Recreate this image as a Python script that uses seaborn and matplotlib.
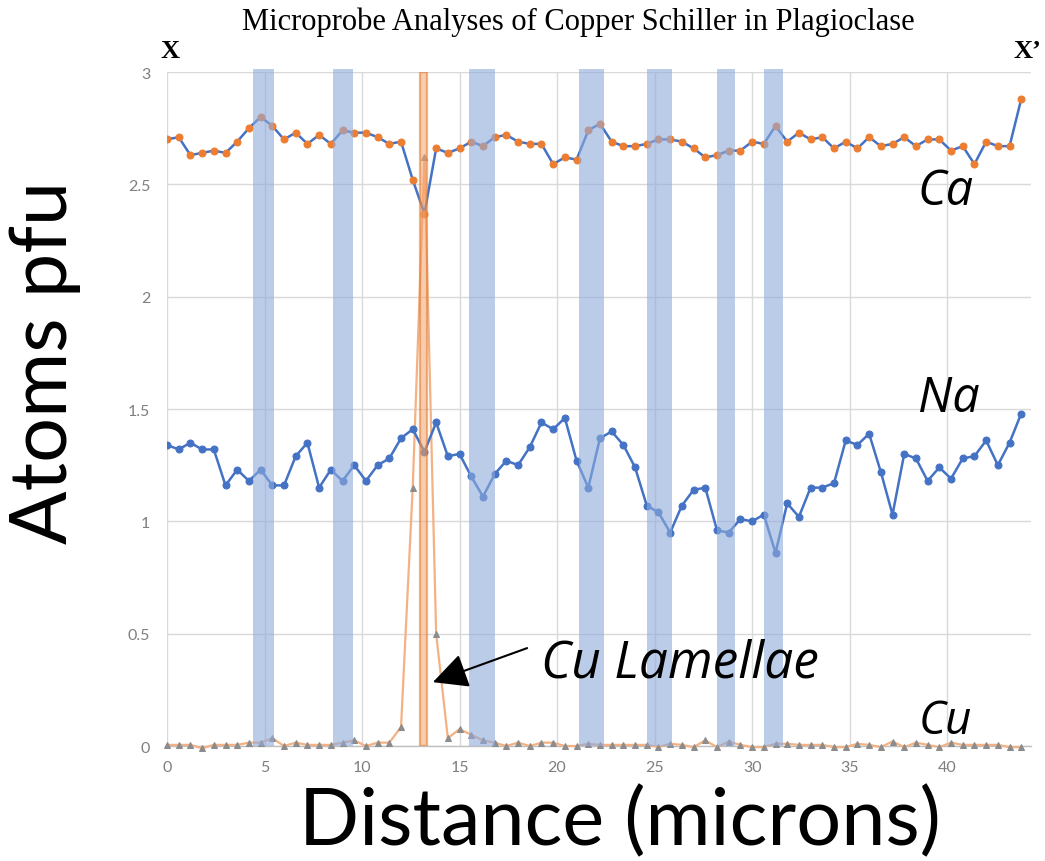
import numpy as np
import pandas as pd
import matplotlib
matplotlib.use("Agg")
import matplotlib.pyplot as plt
import seaborn as sns

# Microprobe traverse X -> X' : sample spacing 0.6 microns, 74 analyses
step_um = 0.6
distance = np.round(np.arange(74) * step_um, 1)

ca = [2.70, 2.71, 2.63, 2.64, 2.65, 2.64, 2.69, 2.75, 2.80, 2.76,
      2.70, 2.73, 2.68, 2.72, 2.68, 2.74, 2.73, 2.73, 2.71, 2.68,
      2.69, 2.52, 2.37, 2.66, 2.64, 2.66, 2.69, 2.67, 2.71, 2.72,
      2.69, 2.68, 2.68, 2.59, 2.62, 2.61, 2.74, 2.77, 2.69, 2.67,
      2.67, 2.68, 2.70, 2.70, 2.69, 2.66, 2.62, 2.63, 2.65, 2.65,
      2.69, 2.68, 2.76, 2.69, 2.73, 2.70, 2.71, 2.66, 2.69, 2.66,
      2.71, 2.67, 2.68, 2.71, 2.67, 2.70, 2.70, 2.65, 2.67, 2.59,
      2.69, 2.67, 2.67, 2.88]

na = [1.34, 1.32, 1.35, 1.32, 1.32, 1.16, 1.23, 1.18, 1.23, 1.16,
      1.16, 1.29, 1.35, 1.15, 1.23, 1.18, 1.25, 1.18, 1.25, 1.28,
      1.37, 1.41, 1.31, 1.44, 1.29, 1.30, 1.20, 1.11, 1.21, 1.27,
      1.25, 1.33, 1.44, 1.41, 1.46, 1.27, 1.15, 1.37, 1.40, 1.34,
      1.24, 1.07, 1.04, 0.95, 1.07, 1.14, 1.15, 0.96, 0.95, 1.01,
      1.00, 1.03, 0.86, 1.08, 1.02, 1.15, 1.15, 1.17, 1.36, 1.34,
      1.39, 1.22, 1.03, 1.30, 1.28, 1.18, 1.24, 1.19, 1.28, 1.29,
      1.36, 1.25, 1.35, 1.48]

cu = [0.005, 0.005, 0.005, -0.010, 0.005, 0.005, 0.005, 0.015, 0.015, 0.035,
      0.000, 0.015, 0.005, 0.005, 0.005, 0.015, 0.025, 0.000, 0.015, 0.015,
      0.085, 1.150, 2.620, 0.500, 0.035, 0.075, 0.050, 0.025, 0.015, 0.000,
      0.015, 0.000, 0.015, 0.015, 0.000, 0.000, 0.010, 0.005, 0.005, 0.005,
      0.005, 0.005, -0.005, 0.010, 0.005, -0.005, 0.025, -0.005, 0.020, 0.005,
      -0.005, -0.005, 0.010, 0.010, 0.005, 0.005, 0.005, -0.005, -0.005, 0.010,
      0.005, -0.005, 0.020, -0.005, 0.015, 0.005, -0.005, 0.015, 0.005, 0.005,
      0.005, 0.005, -0.005, -0.005]

# Highlighted zones along the traverse (microns)
band_starts = [4.4, 8.5, 15.5, 21.1, 24.6, 28.2, 30.6]
band_ends = [5.5, 9.55, 16.8, 22.4, 25.9, 29.1, 31.6]
lamella_start, lamella_end = 12.95, 13.35

x_ticks = [0, 5, 10, 15, 20, 25, 30, 35, 40]
y_ticks = [0, 0.5, 1, 1.5, 2, 2.5, 3]
y_tick_labels = ["0", "0.5", "1", "1.5", "2", "2.5", "3"]

df = pd.DataFrame({"distance": distance, "Ca": ca, "Na": na, "Cu": cu})

sns.set_theme(style="white")
plt.rcParams["font.family"] = ["Lato", "DejaVu Sans"]
plt.rcParams["text.color"] = "black"

fig = plt.figure(figsize=(10.45, 8.62), dpi=100)
ax = fig.add_axes([0.1598, 0.1334, 0.8268, 0.7819])

blue = "#4472c4"
orange = "#ed7d31"
label_font = ["Open Sans", "DejaVu Sans"]
serif_font = ["Liberation Serif", "DejaVu Serif"]

sns.lineplot(data=df, x="distance", y="Cu", ax=ax, color="#f4b183", linewidth=1.6,
             marker="^", markersize=4, markerfacecolor="#8c8c8c",
             markeredgecolor="#8c8c8c", estimator=None, clip_on=False, zorder=3)
sns.lineplot(data=df, x="distance", y="Na", ax=ax, color=blue, linewidth=1.8,
             marker="o", markersize=5, markerfacecolor=blue,
             markeredgecolor=blue, estimator=None, zorder=4)
sns.lineplot(data=df, x="distance", y="Ca", ax=ax, color=blue, linewidth=1.8,
             marker="o", markersize=5, markerfacecolor=orange,
             markeredgecolor=orange, estimator=None, zorder=4)

for s, e in zip(band_starts, band_ends):
    ax.axvspan(s, e, ymin=0, ymax=1.005, facecolor="#8eaadb", alpha=0.6,
               edgecolor="none", zorder=5, clip_on=False)
ax.axvspan(lamella_start, lamella_end, facecolor="#f4a46e", alpha=0.55,
           edgecolor="#e0782f", linewidth=1.6, zorder=6)

ax.set_xlim(0, 44.3)
ax.set_ylim(0, 3)
ax.set_xticks(x_ticks)
ax.set_yticks(y_ticks)
ax.set_yticklabels(y_tick_labels)
ax.grid(True, color="#d9d9d9", linewidth=1.0)
ax.set_axisbelow(True)
for side in ["top", "right", "left"]:
    ax.spines[side].set_visible(False)
ax.spines["bottom"].set_color("#bfbfbf")
ax.spines["bottom"].set_linewidth(1.0)
ax.tick_params(axis="both", length=0, labelsize=11.5, labelcolor="#7f7f7f")
ax.tick_params(axis="y", pad=12)
ax.tick_params(axis="x", pad=10)
ax.set_xlabel("")
ax.set_ylabel("")

# Series labels
ax.text(39.9, 2.47, "Ca", fontsize=35, style="italic", ha="center", va="center",
        family=label_font, zorder=7)
ax.text(40.1, 1.55, "Na", fontsize=35, style="italic", ha="center", va="center",
        family=label_font, zorder=7)
ax.text(39.9, 0.11, "Cu", fontsize=33, style="italic", ha="center", va="center",
        family=label_font, zorder=7)
ax.text(19.2, 0.37, "Cu Lamellae", fontsize=37, style="italic", ha="left",
        va="center", family=label_font, zorder=7)
ax.annotate("", xy=(13.5, 0.28), xytext=(18.6, 0.44),
            arrowprops=dict(arrowstyle="-|>,head_length=1.8,head_width=0.9",
                            color="black", lw=1.5), zorder=8)

fig.text(578 / 1045, 1 - 22 / 862, "Microprobe Analyses of Copper Schiller in Plagioclase",
         fontsize=22, ha="center", va="center", family=serif_font)
fig.text(170 / 1045, 1 - 52 / 862, "X", fontsize=19, fontweight="bold",
         ha="center", va="center", family=serif_font)
fig.text(1027 / 1045, 1 - 52 / 862, "X\u2019", fontsize=19, fontweight="bold",
         ha="center", va="center", family=serif_font)

fig.text(45 / 1045, 1 - 362 / 862, "Atoms pfu", fontsize=57, rotation=90,
         ha="center", va="center")
fig.text(620 / 1045, 1 - 823 / 862, "Distance (microns)", fontsize=57,
         ha="center", va="center")

fig.savefig("out.png", dpi=100)
